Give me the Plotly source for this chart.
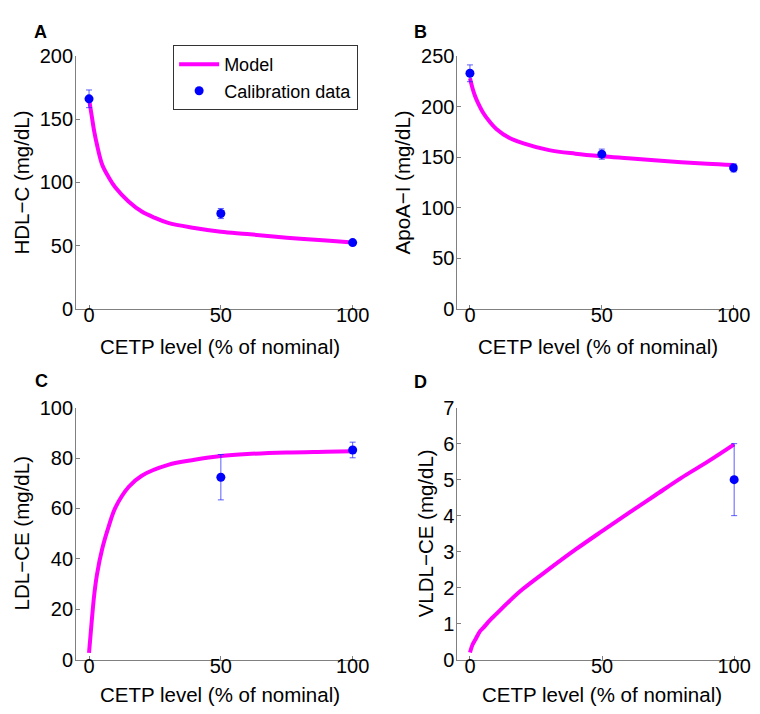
import plotly.graph_objects as go

# ---------------- data ----------------
cetp_A = [0, 1, 2, 3, 5, 7.5, 10, 15, 20, 25, 30, 40, 50, 60, 75, 90, 100]
model_hdl = [166, 153, 140, 130, 114, 104, 96, 85, 77, 72, 68, 64, 61, 59.2, 56.3, 54, 52.4]

cetp_B = [0, 1, 2, 3, 5, 7.5, 10, 15, 20, 30, 40, 50, 60, 75, 90, 100]
model_apoa = [228, 218, 210, 204, 194, 185, 178, 169, 164, 157, 153.5, 151, 149, 146, 143.5, 142.3]

cetp_C = [0, 1, 2, 3, 5, 7.5, 10, 15, 20, 30, 40, 50, 60, 75, 90, 100]
model_ldl = [2.7, 15, 26, 33.7, 44, 53, 60.3, 68.5, 73, 77.3, 79.3, 80.8, 81.6, 82.2, 82.5, 82.7]

cetp_D = [0, 1, 2, 3.7, 5, 7.5, 10, 15, 20, 30, 40, 50, 60, 70, 80, 90, 100]
model_vldl = [0.2, 0.42, 0.55, 0.78, 0.88, 1.09, 1.27, 1.63, 1.96, 2.52, 3.06, 3.57, 4.07, 4.56, 5.05, 5.5, 5.98]

cal_x_A = [0, 50, 100]
cal_hdl = [166.2, 75.4, 52.4]
cal_hdl_err = [7, 4, 1]

cal_x_B = [0, 50, 100]
cal_apoa = [233, 153, 139.4]
cal_apoa_err = [8.3, 5, 4]

cal_x_C = [50, 100]
cal_ldl = [72.4, 83.2]
cal_ldl_err = [9, 3.1]

cal_x_D = [100]
cal_vldl = [5.0]
cal_vldl_err = [1.0]

x_ticks = [0, 50, 100]
x_title = "CETP level (% of nominal)"
y_titles = ["HDL\u2212C (mg/dL)", "ApoA\u2212I (mg/dL)", "LDL\u2212CE (mg/dL)", "VLDL\u2212CE (mg/dL)"]
panel_letters = ["A", "B", "C", "D"]

# ---------------- styling ----------------
W, H = 760, 714
FONT = "Liberation Sans, Arial, Helvetica, sans-serif"
MAGENTA = "#FF00FF"
BLUE = "#0000FF"
AXCOL = "#808080"

fig = go.Figure()

panels = [
    (cetp_A, model_hdl, cal_x_A, cal_hdl, cal_hdl_err),
    (cetp_B, model_apoa, cal_x_B, cal_apoa, cal_apoa_err),
    (cetp_C, model_ldl, cal_x_C, cal_ldl, cal_ldl_err),
    (cetp_D, model_vldl, cal_x_D, cal_vldl, cal_vldl_err),
]

for i, (mx, my, cx, cy, ce) in enumerate(panels):
    ax = "" if i == 0 else str(i + 1)
    fig.add_trace(go.Scatter(
        x=mx, y=my, mode="lines", name="Model",
        line=dict(color=MAGENTA, width=4, shape="spline", smoothing=1.0),
        xaxis="x" + ax, yaxis="y" + ax, showlegend=(i == 0), hoverinfo="skip"))
    fig.add_trace(go.Scatter(
        x=cx, y=cy, mode="markers", name="Calibration data",
        marker=dict(color=BLUE, size=9),
        error_y=dict(type="data", array=ce, visible=True, color="rgba(40,40,255,0.75)",
                     thickness=1, width=3),
        xaxis="x" + ax, yaxis="y" + ax, showlegend=(i == 0)))

# pixel layout of each axes box (left, right, top, bottom)
boxes = [
    (69.3, 363.0, 38.3, 299.0),
    (457.3, 742.3, 38.3, 299.0),
    (69.3, 363.0, 401.0, 661.0),
    (457.3, 751.7, 401.0, 661.0),
]
x_ranges = [[-4.9, 104.6], [-4.73, 101.5], [-4.9, 104.6], [-4.73, 104.8]]
y_ranges = [[0, 200], [0, 250], [0, 100], [0, 7]]
y_dticks = [50, 50, 20, 1]

layout = dict(
    width=W, height=H,
    margin=dict(l=0, r=0, t=0, b=0),
    paper_bgcolor="white", plot_bgcolor="white",
    font=dict(family=FONT, color="black", size=20),
    showlegend=True,
    legend=dict(x=168 / W, y=1 - 27 / H, xanchor="left", yanchor="top",
                bordercolor="#333333", borderwidth=1, bgcolor="white",
                font=dict(size=18, family=FONT), tracegroupgap=0,
                itemwidth=40),
)

for i, (l, r, t, b) in enumerate(boxes):
    ax = "" if i == 0 else str(i + 1)
    common = dict(showgrid=False, zeroline=False, showline=True, linecolor=AXCOL,
                  linewidth=1, ticks="inside", ticklen=4, tickcolor=AXCOL,
                  tickfont=dict(size=20, family=FONT, color="black"), mirror=False)
    layout["xaxis" + ax] = dict(common, domain=[l / W, r / W], range=x_ranges[i],
                                tickvals=x_ticks, anchor="y" + ax, ticklabelstandoff=-12)
    layout["yaxis" + ax] = dict(common, domain=[1 - b / H, 1 - t / H], range=y_ranges[i],
                                dtick=y_dticks[i], tick0=0, anchor="x" + ax,
                                ticklabelstandoff=-2)

fig.update_layout(**layout)

# panel letters, axis titles as text annotations
letter_pos = [(33, 13), (420, 13), (34, 374), (420, 375)]
ytitle_pos = [(13.5, 168.5), (401, 168.5), (14, 531), (425, 531)]
xtitle_pos = [(216, 338), (600, 338), (216, 697), (604.5, 697)]

for i in range(4):
    lx, ly = letter_pos[i]
    fig.add_annotation(x=lx / W, y=1 - ly / H, xref="paper", yref="paper",
                       text="<b>%s</b>" % panel_letters[i], showarrow=False,
                       font=dict(size=18, family=FONT, color="black"),
                       xanchor="center", yanchor="middle")
    tx, ty = ytitle_pos[i]
    fig.add_annotation(x=tx / W, y=1 - ty / H, xref="paper", yref="paper",
                       text=y_titles[i], showarrow=False, textangle=-90,
                       font=dict(size=20.5, family=FONT, color="black"),
                       xanchor="center", yanchor="middle")
    xx, xy = xtitle_pos[i]
    fig.add_annotation(x=xx / W, y=1 - xy / H, xref="paper", yref="paper",
                       text=x_title, showarrow=False,
                       font=dict(size=20.5, family=FONT, color="black"),
                       xanchor="center", yanchor="middle")

fig.write_html("out.html")
